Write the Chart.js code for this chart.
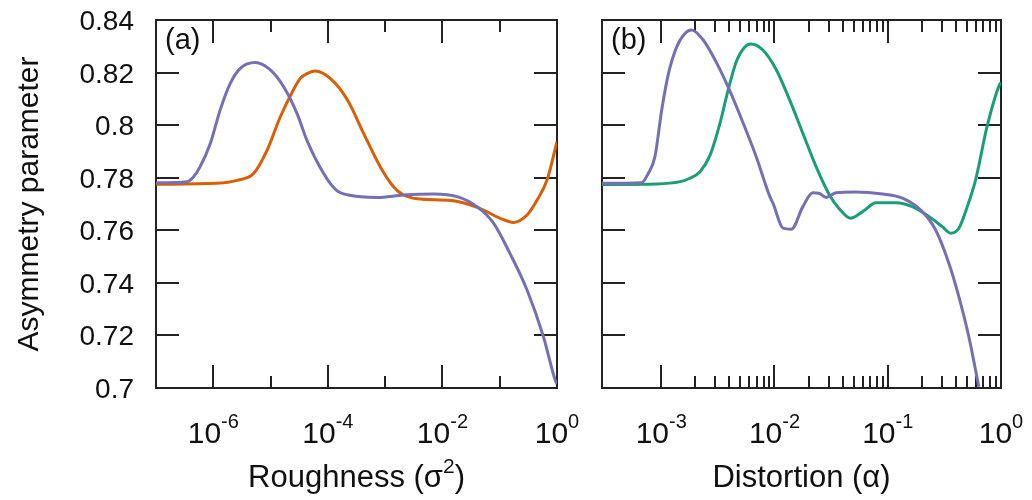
<!DOCTYPE html>
<html>
<head>
<meta charset="utf-8">
<script src="https://cdn.jsdelivr.net/npm/chart.js@4/dist/chart.umd.min.js"></script>
<style>
  body { margin: 0; background: #fff; }
  #wrap { position: relative; width: 1032px; height: 500px; }
  canvas { position: absolute; top: 0; }
</style>
</head>
<body>
<div id="wrap">
  <canvas id="roughChart" width="580" height="500" style="left:0"></canvas>
  <canvas id="distChart" width="452" height="500" style="left:580px"></canvas>
</div>
<script>
// (a) asymmetry vs roughness: purple and orange curves
var roughX1 = [1e-7, 3.5e-7, 4.5e-7, 5.9e-7, 8.9e-7, 1.32e-6, 1.98e-6, 2.96e-6, 5.4e-6, 9.9e-6, 1.69e-5, 2.89e-5, 4.3e-5, 8.4e-5, 1.4e-4, 2.3e-4, 7.2e-4, 2.1e-3, 7.0e-3, 1.8e-2, 4.0e-2, 7.8e-2, 0.15, 0.30, 0.58, 0.93, 1.0];
var roughY1 = [0.7781, 0.7785, 0.7803, 0.7842, 0.7931, 0.8058, 0.8159, 0.8216, 0.8238, 0.821, 0.8146, 0.8045, 0.7943, 0.7817, 0.7753, 0.7734, 0.7725, 0.7734, 0.7738, 0.7728, 0.769, 0.7627, 0.7513, 0.7373, 0.7195, 0.703, 0.7015];
var roughX2 = [1e-7, 1.16e-6, 2.6e-6, 5.1e-6, 8.7e-6, 1.48e-5, 2.5e-5, 3.3e-5, 4.5e-5, 6.0e-5, 1.1e-4, 2.2e-4, 4.2e-4, 8.2e-4, 1.4e-3, 2.1e-3, 3.6e-3, 1.4e-2, 3.1e-2, 5.2e-2, 0.10, 0.175, 0.30, 0.45, 0.67, 1.0];
var roughY2 = [0.7775, 0.7779, 0.779, 0.7817, 0.7905, 0.8032, 0.8134, 0.8178, 0.8198, 0.8206, 0.8178, 0.8096, 0.7969, 0.7842, 0.7766, 0.7734, 0.772, 0.7713, 0.7696, 0.7677, 0.7646, 0.763, 0.7658, 0.7715, 0.7791, 0.7937];

// (b) asymmetry vs distortion: purple and green curves
var distX1 = [3.0e-4, 6.7e-4, 7.7e-4, 8.8e-4, 1.01e-3, 1.16e-3, 1.37e-3, 1.62e-3, 1.85e-3, 2.35e-3, 3.1e-3, 4.0e-3, 5.3e-3, 6.9e-3, 9.1e-3, 9.7e-3, 1.19e-2, 1.41e-2, 1.78e-2, 2.18e-2, 2.5e-2, 2.86e-2, 3.5e-2, 5.2e-2, 9.0e-2, 0.135, 0.202, 0.265, 0.347, 0.425, 0.52, 0.637];
var distY1 = [0.7779, 0.7781, 0.7817, 0.788, 0.8058, 0.8197, 0.8298, 0.8349, 0.8362, 0.8324, 0.8235, 0.8134, 0.8007, 0.788, 0.7728, 0.7703, 0.7608, 0.7604, 0.769, 0.7743, 0.774, 0.7725, 0.7743, 0.7746, 0.7738, 0.7722, 0.7671, 0.7601, 0.7474, 0.7347, 0.7195, 0.7005];
var distX2 = [3.0e-4, 9.1e-4, 1.47e-3, 1.79e-3, 2.2e-3, 2.7e-3, 3.3e-3, 3.9e-3, 4.6e-3, 5.5e-3, 6.2e-3, 7.9e-3, 1.04e-2, 1.36e-2, 1.78e-2, 2.33e-2, 3.05e-2, 3.7e-2, 4.7e-2, 6.0e-2, 7.9e-2, 0.118, 0.165, 0.231, 0.303, 0.359, 0.425, 0.504, 0.596, 0.753, 0.968, 1.0];
var distY2 = [0.7774, 0.7776, 0.7785, 0.7798, 0.7823, 0.7886, 0.8007, 0.8134, 0.8241, 0.8298, 0.8309, 0.8286, 0.821, 0.8096, 0.7969, 0.7842, 0.7735, 0.7684, 0.7646, 0.7671, 0.7705, 0.7705, 0.769, 0.7652, 0.7614, 0.7589, 0.7608, 0.769, 0.7791, 0.7994, 0.8153, 0.8162];

// axis ticks
var yTicks = [0.84, 0.82, 0.8, 0.78, 0.76, 0.74, 0.72, 0.7];
var yTickLabels = ['0.84', '0.82', '0.8', '0.78', '0.76', '0.74', '0.72', '0.7'];
var roughTicks = [1e-6, 1e-4, 1e-2, 1];
var roughTickExp = ['-6', '-4', '-2', '0'];
var roughMinor = [1e-5, 1e-3, 1e-1];
var distTicks = [1e-3, 1e-2, 1e-1, 1];
var distTickExp = ['-3', '-2', '-1', '0'];

var PURPLE = '#7570b3', ORANGE = '#d95f02', GREEN = '#1b9e77';
var FONT = '"Liberation Sans", Arial, sans-serif';

var distMinor = [];
[1e-3, 1e-2, 1e-1].forEach(function (d) {
  for (var k = 2; k <= 9; k++) distMinor.push(k * d);
});

function points(xs, ys) {
  return xs.map(function (x, i) { return { x: x, y: ys[i] }; });
}

// "10" with a raised exponent, centred on x
function powLabel(ctx, x, y, exp) {
  ctx.font = '30px ' + FONT;
  var wb = ctx.measureText('10').width;
  ctx.font = '20px ' + FONT;
  var we = ctx.measureText(exp).width;
  var x0 = x - (wb + we) / 2;
  ctx.textAlign = 'left';
  ctx.textBaseline = 'alphabetic';
  ctx.font = '30px ' + FONT;
  ctx.fillText('10', x0, y);
  ctx.font = '20px ' + FONT;
  ctx.fillText(exp, x0 + wb, y - 15);
}

// frame, inward ticks and all labels, drawn from the chart's own scales
var panelAxes = {
  id: 'panelAxes',
  beforeDatasetsDraw: function (chart, args, o) {
    var ctx = chart.ctx, a = chart.chartArea;
    var xs = chart.scales.x, ys = chart.scales.y;
    ctx.save();
    ctx.strokeStyle = '#222';
    ctx.lineWidth = 2;
    ctx.strokeRect(a.left, a.top, a.right - a.left, a.bottom - a.top);

    ctx.beginPath();
    function xTick(v, len) {
      var px = Math.round(xs.getPixelForValue(v));
      if (px <= a.left + 1 || px >= a.right - 1) return;
      ctx.moveTo(px, a.bottom); ctx.lineTo(px, a.bottom - len);
      ctx.moveTo(px, a.top); ctx.lineTo(px, a.top + len);
    }
    o.major.forEach(function (v) { xTick(v, 23); });
    o.minor.forEach(function (v) { xTick(v, 12); });
    yTicks.forEach(function (v) {
      var py = Math.round(ys.getPixelForValue(v));
      if (py <= a.top + 1 || py >= a.bottom - 1) return;
      ctx.moveTo(a.left, py); ctx.lineTo(a.left + 23, py);
      ctx.moveTo(a.right, py); ctx.lineTo(a.right - 23, py);
    });
    ctx.stroke();

    ctx.fillStyle = '#111';
    o.major.forEach(function (v, i) {
      powLabel(ctx, xs.getPixelForValue(v), a.bottom + 55, o.exps[i]);
    });

    if (o.yLabels) {
      ctx.font = '28px ' + FONT;
      ctx.textAlign = 'right';
      ctx.textBaseline = 'alphabetic';
      yTicks.forEach(function (v, i) {
        ctx.fillText(yTickLabels[i], a.left - 22, ys.getPixelForValue(v) + 10);
      });
      ctx.save();
      ctx.font = '30px ' + FONT;
      ctx.textAlign = 'center';
      ctx.translate(38, (a.top + a.bottom) / 2);
      ctx.rotate(-Math.PI / 2);
      ctx.fillText('Asymmetry parameter', 0, 0);
      ctx.restore();
    }

    // panel tag
    ctx.font = '29px ' + FONT;
    ctx.textAlign = 'left';
    ctx.fillText(o.tag, a.left + 9, a.top + 29);

    // axis title, optional superscript in the middle
    var t = o.title;
    ctx.font = '31px ' + FONT;
    var w0 = ctx.measureText(t[0]).width, w2 = ctx.measureText(t[2]).width;
    ctx.font = '21px ' + FONT;
    var w1 = ctx.measureText(t[1]).width;
    var x0 = (a.left + a.right) / 2 - (w0 + w1 + w2) / 2;
    var base = a.bottom + 99;
    ctx.font = '31px ' + FONT;
    ctx.fillText(t[0], x0, base);
    ctx.fillText(t[2], x0 + w0 + w1, base);
    ctx.font = '21px ' + FONT;
    ctx.fillText(t[1], x0 + w0, base - 14);
    ctx.restore();
  }
};

function makeChart(id, pad, xmin, lines, axesOpts) {
  return new Chart(document.getElementById(id).getContext('2d'), {
    type: 'line',
    data: {
      datasets: lines.map(function (l) {
        return {
          data: points(l[0], l[1]),
          borderColor: l[2],
          borderWidth: 3,
          pointRadius: 0,
          fill: false,
          cubicInterpolationMode: 'monotone'
        };
      })
    },
    options: {
      responsive: false,
      animation: false,
      layout: { padding: pad },
      scales: {
        x: { type: 'logarithmic', min: xmin, max: 1, display: false },
        y: { type: 'linear', min: 0.7, max: 0.84, display: false }
      },
      plugins: {
        legend: { display: false },
        tooltip: { enabled: false },
        panelAxes: axesOpts
      }
    },
    plugins: [panelAxes]
  });
}

var roughChart = makeChart('roughChart',
  { left: 156, top: 20, right: 23, bottom: 112 }, 1e-7,
  [[roughX1, roughY1, PURPLE], [roughX2, roughY2, ORANGE]],
  { major: roughTicks, minor: roughMinor, exps: roughTickExp, yLabels: true,
    tag: '(a)', title: ['Roughness (\u03c3', '2', ')'] });

var distChart = makeChart('distChart',
  { left: 22, top: 20, right: 31, bottom: 112 }, 3e-4,
  [[distX1, distY1, PURPLE], [distX2, distY2, GREEN]],
  { major: distTicks, minor: distMinor, exps: distTickExp, yLabels: false,
    tag: '(b)', title: ['Distortion (\u03b1)', '', ''] });
</script>
</body>
</html>
